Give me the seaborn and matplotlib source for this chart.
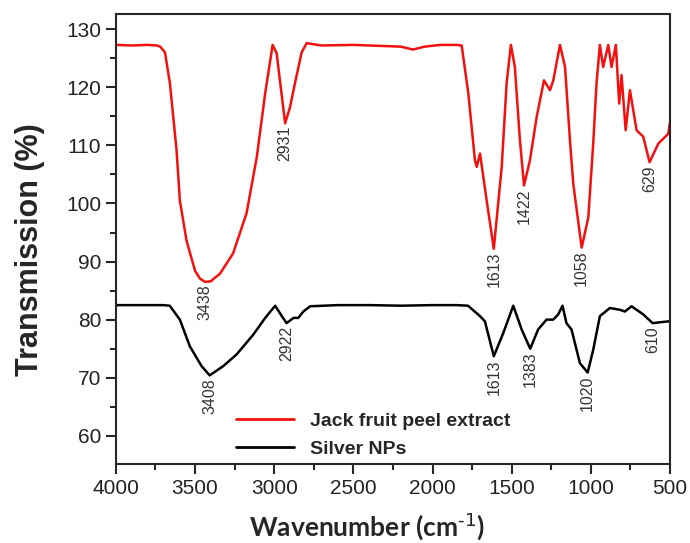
import pandas as pd
import matplotlib
matplotlib.use("Agg")
import matplotlib.pyplot as plt
from matplotlib.ticker import MultipleLocator, AutoMinorLocator
import seaborn as sns

sns.set_style("ticks")
plt.rcParams['font.family'] = ['Liberation Sans', 'DejaVu Sans']
plt.rcParams['mathtext.default'] = 'regular'

# spectrum
red_wn = [4000, 3900, 3800, 3740, 3720, 3690, 3659, 3617, 3596, 3554, 3500, 3470, 3438, 3400, 3380, 3343, 3260,
          3175, 3110, 3057, 3010, 2985, 2931, 2900, 2869, 2827, 2795, 2700, 2500, 2300, 2200, 2124,
          2050, 1950, 1850, 1816, 1774, 1732, 1721, 1700, 1658, 1613, 1563, 1532, 1505, 1480, 1448,
          1422, 1385, 1342, 1296, 1258, 1237, 1195, 1163, 1132, 1111, 1058, 1016, 985, 964, 943,
          922, 890, 869, 842, 821, 806, 780, 753, 711, 669, 629, 574, 511, 500]
red_tr = [127.3, 127.2, 127.3, 127.2, 127.0, 126.0, 120.7, 109.2, 100.5, 93.6, 88.4, 87.1, 86.5, 86.6, 87.1, 87.9, 91.4,
          98.3, 108.0, 119.0, 127.3, 125.9, 113.8, 116.6, 120.7, 126.0, 127.6, 127.2, 127.3, 127.1, 127.0, 126.5,
          127.0, 127.3, 127.3, 127.2, 119.0, 107.4, 106.3, 108.6, 100.5, 92.2, 106.3, 120.7, 127.3, 123.5, 110.9,
          103.1, 107.4, 114.9, 121.2, 119.5, 121.2, 127.3, 123.5, 110.9, 103.4, 92.4, 97.6, 110.3, 120.7, 127.3,
          123.5, 127.3, 123.5, 127.3, 117.2, 122.1, 112.6, 119.5, 112.6, 111.5, 107.1, 110.3, 112.0, 114.0]

blk_wn = [4000, 3850, 3700, 3660, 3596, 3533, 3459, 3408, 3322, 3238, 3133, 3057, 2994, 2952, 2922,
          2878, 2848, 2816, 2773, 2600, 2400, 2200, 2000, 1850, 1776, 1700, 1669, 1613, 1553, 1490,
          1437, 1383, 1333, 1280, 1238, 1206, 1179, 1154, 1122, 1069, 1020, 985, 943, 880, 817,
          785, 743, 669, 610, 511, 500]
blk_tr = [82.5, 82.5, 82.5, 82.4, 80.0, 75.4, 72.0, 70.4, 72.0, 74.0, 77.4, 80.3, 82.4, 80.6, 79.4,
          80.3, 80.3, 81.4, 82.3, 82.5, 82.5, 82.4, 82.5, 82.5, 82.4, 80.6, 79.7, 73.7, 77.7, 82.4,
          78.3, 75.0, 78.3, 80.0, 80.0, 80.9, 82.4, 79.4, 78.3, 72.5, 70.9, 74.8, 80.6, 82.0, 81.7,
          81.4, 82.3, 80.9, 79.4, 79.7, 79.7]

red_peak_wn = [3438, 2931, 1613, 1422, 1058, 629]
red_peak_tr = [86.5, 113.8, 92.2, 103.1, 92.4, 107.1]
blk_peak_wn = [3408, 2922, 1613, 1383, 1020, 610]
blk_peak_tr = [70.4, 79.4, 73.7, 75.0, 70.9, 79.4]

names = ["Jack fruit peel extract", "Silver NPs"]

df = pd.concat([
    pd.DataFrame({"wn": red_wn, "tr": red_tr, "sample": names[0]}),
    pd.DataFrame({"wn": blk_wn, "tr": blk_tr, "sample": names[1]}),
])

fig, ax = plt.subplots(figsize=(6.9, 5.43), dpi=100)
fig.subplots_adjust(left=0.168, right=0.971, top=0.974, bottom=0.145)

sns.lineplot(data=df, x="wn", y="tr", hue="sample", palette=["#f21010", "black"],
             linewidth=1.8, estimator=None, ax=ax)

for w, t in zip(red_peak_wn + blk_peak_wn, red_peak_tr + blk_peak_tr):
    ax.annotate(str(w), (w, t), xytext=(0, -2), textcoords="offset points",
                rotation=90, ha="center", va="top", fontsize=11.5, color="#333333")

ax.set_xlim(4000, 500)
ax.set_ylim(55.1, 132.6)
ax.xaxis.set_major_locator(MultipleLocator(500))
ax.xaxis.set_minor_locator(AutoMinorLocator(2))
ax.yaxis.set_major_locator(MultipleLocator(10))
ax.yaxis.set_minor_locator(AutoMinorLocator(2))
ax.tick_params(which="both", direction="out", width=1.5, labelsize=15, labelcolor="#222222")
ax.tick_params(which="major", length=7)
ax.tick_params(which="minor", length=4)
for s in ax.spines.values():
    s.set_linewidth(1.5)
    s.set_visible(True)

ax.set_ylabel("Transmission (%)", fontsize=22, fontweight="bold")
ax.yaxis.set_label_coords(-0.128, 0.476)
ax.set_xlabel(r"Wavenumber (cm$^{\text{-1}}$)", fontsize=19, fontweight="bold",
              family=["Lato", "DejaVu Sans"], labelpad=7)
ax.xaxis.set_label_coords(0.453, -0.105)

leg = ax.legend(loc="lower left", bbox_to_anchor=(0.185, -0.025), frameon=False,
                handlelength=3.0, handletextpad=0.8, labelspacing=0.55,
                prop={"weight": "bold", "size": 14})
for line in leg.get_lines():
    line.set_linewidth(2)

plt.savefig("out.png", dpi=100)
